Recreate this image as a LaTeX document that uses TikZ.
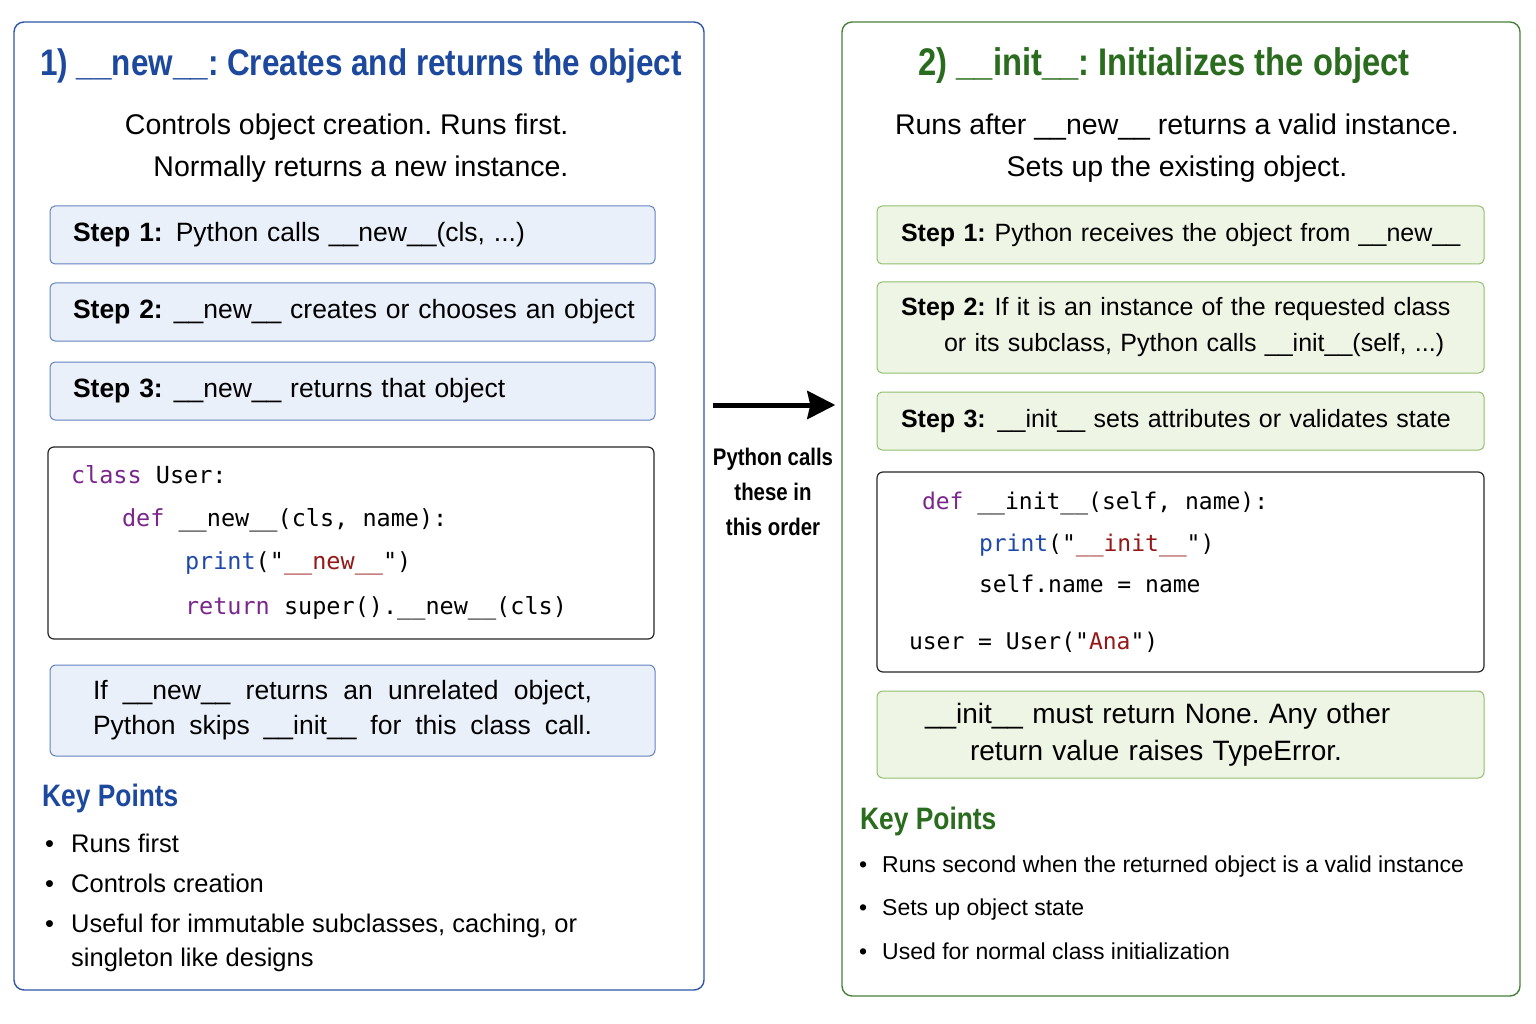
\documentclass[tikz,border=0pt]{standalone}
\usepackage{fontspec}
\setmainfont{Liberation Sans}
\setmonofont{DejaVu Sans Mono}
\newfontfamily\headfont[FakeStretch=0.85]{Liberation Sans}
\usetikzlibrary{arrows.meta,positioning}
\definecolor{newblue}{RGB}{28,72,158}
\definecolor{panelblue}{RGB}{48,86,168}
\definecolor{stepblue}{RGB}{234,240,250}
\definecolor{stepblueline}{RGB}{100,130,190}
\definecolor{initgreen}{RGB}{42,108,30}
\definecolor{panelgreen}{RGB}{72,128,58}
\definecolor{stepgreen}{RGB}{238,245,229}
\definecolor{stepgreenline}{RGB}{146,190,112}
\definecolor{kwpurple}{RGB}{122,38,140}
\definecolor{fnblue}{RGB}{30,72,170}
\definecolor{strred}{RGB}{150,24,24}
\newcommand{\pykw}[1]{\textcolor{kwpurple}{#1}}
\newcommand{\pyfn}[1]{\textcolor{fnblue}{#1}}
\newcommand{\pystr}[1]{\textcolor{strred}{#1}}
\newcommand{\dund}[1]{\_\_#1\_\_}
\newcommand{\csp}{\hphantom{x}}
\frenchspacing

\begin{document}
\begin{tikzpicture}[
    x=1pt, y=-1pt,
    panel/.style={draw=#1, line width=1.4pt, rounded corners=10pt, fill=white},
    title/.style={text=#1},
    sub/.style={font=\fontsize{28.5}{42}\selectfont, align=#1},
    stepbox/.style={draw=#1, line width=1pt, rounded corners=5pt, minimum height=58pt, align=left, inner xsep=23pt},
    codebox/.style={draw=black!85, line width=1.2pt, rounded corners=6pt, fill=white, align=left},
    notebox/.style={draw=#1, line width=1pt, rounded corners=6pt, align=left, inner xsep=23pt},
    keyhead/.style={font=\headfont\bfseries\fontsize{31}{34}\selectfont, text=#1, anchor=west, inner sep=0pt},
    points/.style={anchor=west, inner sep=0pt, align=left},
    flow/.style={-{Stealth[length=28pt, width=28pt, inset=3pt]}, line width=5pt},
    >=Stealth
]
\useasboundingbox (0,0) rectangle (1536,1024);

% left panel: __new__
\node[panel=panelblue, minimum width=690pt, minimum height=968pt] (newpanel) at (359,506) {};
\node[title=newblue, font=\headfont\bfseries\fontsize{37}{40}\selectfont] (newtitle) at (361,66)
      {1) \dund{new}: Creates and returns the object};
\node[sub=right, anchor=east] (newsub) at (572,148) {Controls object creation. Runs first.\\Normally returns a new instance.};

\node[stepbox=stepblueline, fill=stepblue, minimum width=605pt, text width=559pt,
      font=\fontsize{26.5}{32}\selectfont] (newstep1) at (352.5,235)
      {\mbox{\textbf{Step 1:}\hspace{13pt}Python calls \dund{new}(cls, ...)}};
\node[stepbox=stepblueline, fill=stepblue, minimum width=605pt, text width=559pt,
      font=\fontsize{26.5}{32}\selectfont, below=18pt of newstep1] (newstep2)
      {\mbox{\textbf{Step 2:}\hspace{11pt}\dund{new} creates or chooses an object}};
\node[stepbox=stepblueline, fill=stepblue, minimum width=605pt, text width=559pt,
      font=\fontsize{26.5}{32}\selectfont, below=20pt of newstep2] (newstep3)
      {\mbox{\textbf{Step 3:}\hspace{11pt}\dund{new} returns that object}};

\node[codebox, minimum width=606pt, minimum height=192pt, text width=560pt, inner xsep=23pt,
      font=\ttfamily\fontsize{23.5}{43}\selectfont] (newcode) at (351,543)
      {\pykw{class}\csp User:\\
       \hspace*{51pt}\pykw{def}\csp\dund{new}(cls,\csp name):\\
       \hspace*{114pt}\pyfn{print}("\pystr{\dund{new}}")\\[2pt]
       \hspace*{114pt}\pykw{return}\csp super().\dund{new}(cls)};

\node[notebox=stepblueline, fill=stepblue, minimum width=605pt, minimum height=91pt, text width=559pt,
      font=\fontsize{26.5}{35}\selectfont] (newnote) at (352.5,710.5)
      {\hspace*{20pt}\hbox to 499pt{If\hfill\dund{new}\hfill returns\hfill an\hfill unrelated\hfill object,}\\
       \hspace*{20pt}\hbox to 499pt{Python\hfill skips\hfill\dund{init}\hfill for\hfill this\hfill class\hfill call.}};

\node[keyhead=newblue] (newkey) at (42,798) {Key Points};
\node[points, font=\fontsize{25.5}{34}\selectfont] (newpoints) at (45,903)
      {\makebox[26pt][l]{\textbullet}Runs first\\[6pt]
       \makebox[26pt][l]{\textbullet}Controls creation\\[6pt]
       \makebox[26pt][l]{\textbullet}Useful for immutable subclasses, caching, or\\
       \hspace*{26pt}singleton like designs};

% right panel: __init__
\node[panel=panelgreen, minimum width=678pt, minimum height=974pt] (initpanel) at (1181,509) {};
\node[title=initgreen, font=\headfont\bfseries\fontsize{38.5}{40}\selectfont] (inittitle) at (1164,66)
      {2) \dund{init}: Initializes the object};
\node[sub=center] (initsub) at (1177,148) {Runs after \dund{new} returns a valid instance.\\Sets up the existing object.};

\node[stepbox=stepgreenline, fill=stepgreen, minimum width=607pt, text width=559pt, inner xsep=24pt,
      font=\fontsize{25}{36}\selectfont] (initstep1) at (1180.5,235)
      {\mbox{\textbf{Step 1:}\hspace{9pt}Python receives the object from \dund{new}}};
\node[stepbox=stepgreenline, fill=stepgreen, minimum width=607pt, minimum height=91pt, text width=559pt, inner xsep=24pt,
      font=\fontsize{25}{36}\selectfont, below=17pt of initstep1] (initstep2)
      {\mbox{\textbf{Step 2:}\hspace{9pt}If it is an instance of the requested class}\\
       \hspace*{43pt}\mbox{or its subclass, Python calls \dund{init}(self, ...)}};
\node[stepbox=stepgreenline, fill=stepgreen, minimum width=607pt, text width=559pt, inner xsep=24pt,
      font=\fontsize{25}{36}\selectfont, below=18pt of initstep2] (initstep3)
      {\mbox{\textbf{Step 3:}\hspace{12pt}\dund{init} sets attributes or validates state}};

\node[codebox, minimum width=607pt, minimum height=200pt, text width=543pt, inner xsep=32pt,
      font=\ttfamily\fontsize{23}{41.5}\selectfont] (initcode) at (1180.5,572)
      {\hspace*{13pt}\pykw{def}\csp\dund{init}(self,\csp name):\\
       \hspace*{70pt}\pyfn{print}("\pystr{\dund{init}}")\\
       \hspace*{70pt}self.name\csp=\csp name\\[15pt]
       user\csp=\csp User("\pystr{Ana}")};

\node[notebox=stepgreenline, fill=stepgreen, minimum width=607pt, minimum height=87pt, text width=559pt, inner xsep=24pt,
      font=\fontsize{28}{37}\selectfont] (initnote) at (1180.5,734.5)
      {\hspace*{24pt}\dund{init} must return None. Any other\\
       \hspace*{69pt}return value raises TypeError.};

\node[keyhead=initgreen] (initkey) at (860,821) {Key Points};
\node[points, font=\fontsize{23}{43.5}\selectfont] (initpoints) at (859,907.5)
      {\makebox[23pt][l]{\textbullet}Runs second when the returned object is a valid instance\\
       \makebox[23pt][l]{\textbullet}Sets up object state\\
       \makebox[23pt][l]{\textbullet}Used for normal class initialization};

% order arrow between the panels
\coordinate (arrowrow) at (0,405);
\draw[flow, shorten <=8pt, shorten >=6pt] (newpanel.east |- arrowrow) -- (initpanel.west |- arrowrow);
\node[font=\headfont\bfseries\fontsize{24}{35}\selectfont, align=center] (orderlabel) at (773,492)
      {Python calls\\these in\\this order};
\end{tikzpicture}
\end{document}
